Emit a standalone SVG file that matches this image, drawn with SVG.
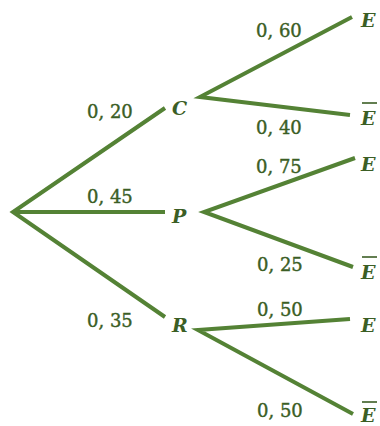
<svg xmlns="http://www.w3.org/2000/svg" width="380" height="426" viewBox="0 0 380 426">
<style>
.br{stroke:#548235;stroke-width:4;fill:none;stroke-linecap:butt}
.p{font-family:"DejaVu Serif","Liberation Serif",serif;font-size:18px;fill:#3b5e25;stroke:#3b5e25;stroke-width:0.4}
.n{font-family:"DejaVu Serif","Liberation Serif",serif;font-size:19px;font-style:italic;font-weight:bold;fill:#3b5e25}
.ov{stroke:#3b5e25;stroke-width:1.6}
</style>
<rect width="380" height="426" fill="#ffffff"/>
<g id="connectors">
<polyline class="br" points="165,108 13,212 165,317"/>
<line class="br" x1="13" y1="212" x2="165" y2="212"/>
<polyline class="br" points="352,17 200,97 350,115"/>
<polyline class="br" points="355,158 204,212 353,267"/>
<polyline class="br" points="350,319 198,330 353,414"/>
</g>
<g id="probabilities">
<text class="p" x="87" y="118">0, 20</text>
<text class="p" x="87" y="203">0, 45</text>
<text class="p" x="87" y="327">0, 35</text>
<text class="p" x="256" y="37">0, 60</text>
<text class="p" x="256" y="134">0, 40</text>
<text class="p" x="256" y="173">0, 75</text>
<text class="p" x="257" y="271">0, 25</text>
<text class="p" x="257" y="316">0, 50</text>
<text class="p" x="257" y="417">0, 50</text>
</g>
<g id="node-C"><text class="n" x="172" y="115">C</text></g>
<g id="node-P"><text class="n" x="172" y="223">P</text></g>
<g id="node-R"><text class="n" x="172" y="332">R</text></g>
<g id="node-E1"><text class="n" x="361" y="27">E</text></g>
<g id="node-Ebar1"><line class="ov" x1="362" y1="103" x2="377" y2="103"/><text class="n" x="361" y="125">E</text></g>
<g id="node-E2"><text class="n" x="361" y="171">E</text></g>
<g id="node-Ebar2"><line class="ov" x1="362" y1="257" x2="377" y2="257"/><text class="n" x="361" y="279">E</text></g>
<g id="node-E3"><text class="n" x="361" y="332">E</text></g>
<g id="node-Ebar3"><line class="ov" x1="362" y1="402" x2="377" y2="402"/><text class="n" x="361" y="422">E</text></g>
</svg>
